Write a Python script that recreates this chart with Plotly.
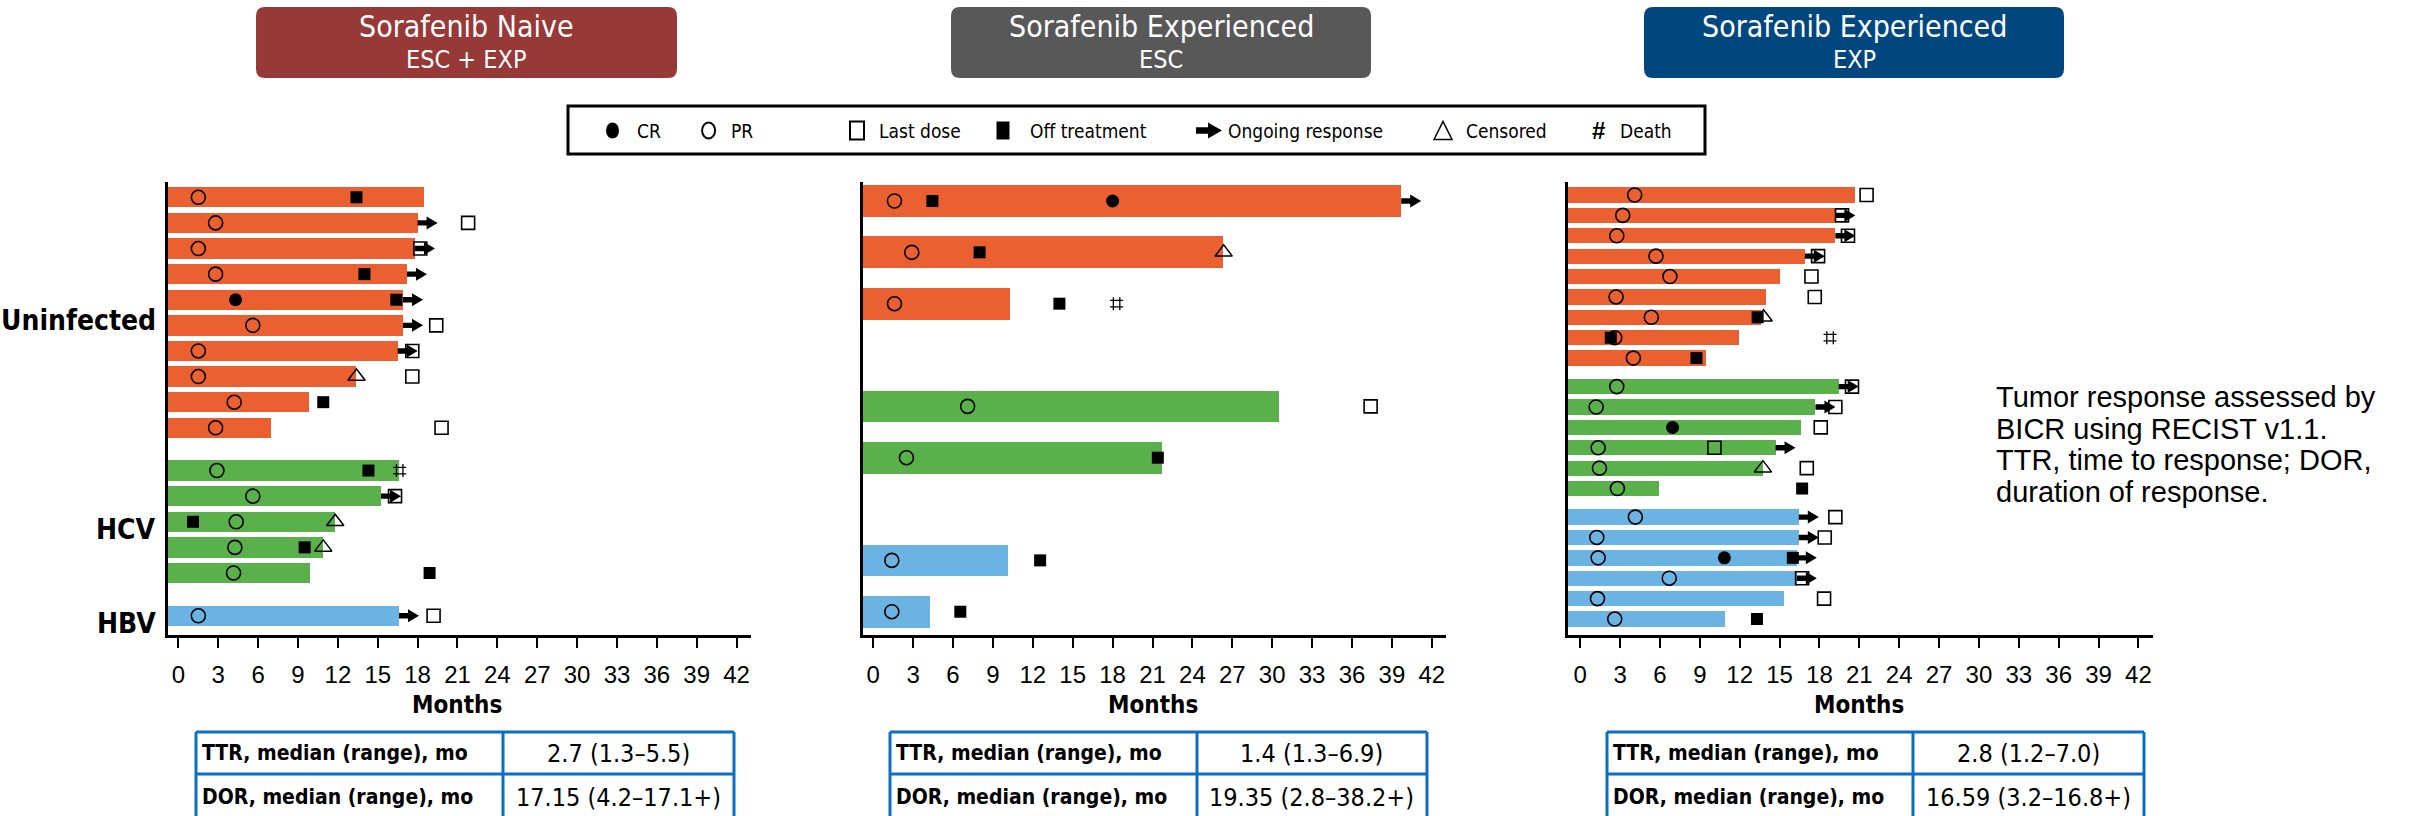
import plotly.graph_objects as go

# ---------------- data ----------------
# Sorafenib naive, ESC + EXP (one row per responder, top to bottom)
naive_group = ["Uninfected"] * 10 + ["HCV"] * 5 + ["HBV"]
naive_duration = [18.5, 18.0, 17.8, 17.2, 16.9, 16.9, 16.5, 13.4, 9.8, 7.0,
                  16.6, 15.25, 11.8, 10.9, 9.9, 16.6]
naive_pr = [1.5, 2.8, 1.5, 2.8, None, 5.6, 1.5, 1.5, 4.2, 2.8,
            2.9, 5.6, 4.35, 4.25, 4.15, 1.5]
naive_cr = [None, None, None, None, 4.3, None, None, None, None, None,
            None, None, None, None, None, None]
naive_off = [13.4, None, None, 14.0, 16.4, None, None, None, 10.9, None,
             14.3, None, 1.1, 9.5, 18.9, None]
naive_last = [None, 21.8, 18.2, None, None, 19.4, 17.6, 17.6, None, 19.8,
              None, 16.3, None, None, None, 19.2]
naive_censored = [None] * 7 + [13.4] + [None] * 4 + [11.8, 10.9, None, None]
naive_death = [None] * 10 + [16.65] + [None] * 5
naive_ongoing = [0, 1, 1, 1, 1, 1, 1, 0, 0, 0, 0, 1, 0, 0, 0, 1]

# Sorafenib experienced, ESC
esc_group = ["Uninfected"] * 3 + ["HCV"] * 2 + ["HBV"] * 2
esc_duration = [39.7, 26.3, 10.3, 30.5, 21.7, 10.1, 4.3]
esc_pr = [1.6, 2.9, 1.6, 7.1, 2.5, 1.4, 1.4]
esc_cr = [18.0, None, None, None, None, None, None]
esc_off = [4.45, 8.0, 14.0, None, 21.4, 12.55, 6.55]
esc_last = [None, None, None, 37.4, None, None, None]
esc_censored = [None, 26.35, None, None, None, None, None]
esc_death = [None, None, 18.3, None, None, None, None]
esc_ongoing = [1, 0, 0, 0, 0, 0, 0]

# Sorafenib experienced, EXP
exp_group = ["Uninfected"] * 9 + ["HCV"] * 6 + ["HBV"] * 6
exp_duration = [20.7, 19.2, 19.2, 16.9, 15.0, 14.0, 13.6, 11.95, 9.5,
                19.45, 17.7, 16.6, 14.7, 13.75, 5.9,
                16.45, 16.45, 16.3, 16.3, 15.3, 10.9]
exp_pr = [4.1, 3.2, 2.75, 5.7, 6.75, 2.7, 5.35, 2.6, 4.0,
          2.75, 1.2, None, 1.35, 1.45, 2.8,
          4.15, 1.25, 1.35, 6.7, 1.3, 2.6]
exp_cr = [None] * 11 + [6.95] + [None] * 5 + [10.85] + [None] * 3
exp_off = [None] * 6 + [13.35, 2.3, 8.75] + [None] * 5 + [16.7] + \
          [None, None, 16.0, None, None, 13.3]
exp_last = [21.55, 19.7, 20.15, 17.9, 17.4, 17.65, None, None, None,
            20.45, 19.2, 18.1, 10.1, 17.05, None,
            19.2, 18.4, None, 16.7, 18.35, None]
exp_censored = [None] * 6 + [13.8] + [None] * 6 + [13.75] + [None] * 7
exp_death = [None] * 7 + [18.8] + [None] * 13
exp_ongoing = [0, 1, 1, 1, 0, 0, 0, 0, 0,
               1, 1, 0, 1, 0, 0,
               1, 1, 1, 1, 0, 0]

panel_titles = ["Sorafenib Naive", "Sorafenib Experienced", "Sorafenib Experienced"]
panel_subtitles = ["ESC + EXP", "ESC", "EXP"]
ttr_values = ["2.7 (1.3\u20135.5)", "1.4 (1.3\u20136.9)", "2.8 (1.2\u20137.0)"]
dor_values = ["17.15 (4.2\u201317.1+)", "19.35 (2.8\u201338.2+)", "16.59 (3.2\u201316.8+)"]
table_labels = ["TTR, median (range), mo", "DOR, median (range), mo"]
x_ticks = list(range(0, 43, 3))
legend_labels = ["CR", "PR", "Last dose", "Off treatment", "Ongoing response",
                 "Censored", "Death"]
note_lines = ["Tumor response assessed by", "BICR using RECIST v1.1.",
              "TTR, time to response; DOR,", "duration of response."]

# ---------------- styling ----------------
W, H = 2420, 816
GROUP_COLORS = {"Uninfected": "#EA6030", "HCV": "#5AB04A", "HBV": "#6BB3E2"}
HEADER_COLORS = ["#963937", "#585858", "#00477F"]
TABLE_BLUE = "#0A6FC2"
COND = "Liberation Sans Narrow, Arial Narrow, DejaVu Sans Condensed, sans-serif"
ARIAL = "Liberation Sans, Arial, Helvetica, sans-serif"
PLOT_TOP, PLOT_BOTTOM = 182, 635.2


def px_x(p):
    return p / W


def px_y(p):
    return 1 - p / H


panels = [
    dict(data=(naive_group, naive_duration, naive_pr, naive_cr, naive_off,
               naive_last, naive_censored, naive_death, naive_ongoing),
         left=168, right=751, zero=178.4, ppm=13.29,
         first_row=197.3, spacing=25.61, gap=0.67, bar=20.3,
         header=(256, 677), table=(196, 503, 734)),
    dict(data=(esc_group, esc_duration, esc_pr, esc_cr, esc_off,
               esc_last, esc_censored, esc_death, esc_ongoing),
         left=863, right=1446, zero=873.2, ppm=13.30,
         first_row=201.0, spacing=51.34, gap=1.0, bar=31.7,
         header=(951, 1371), table=(890, 1197, 1427)),
    dict(data=(exp_group, exp_duration, exp_pr, exp_cr, exp_off,
               exp_last, exp_censored, exp_death, exp_ongoing),
         left=1568, right=2153, zero=1580.2, ppm=13.29,
         first_row=195.0, spacing=20.385, gap=0.40, bar=15.3,
         header=(1644, 2064), table=(1607, 1913, 2144)),
]

ARROW_PATH = "M0,-2.7 L9,-2.7 L9,-6.5 L20,0 L9,6.5 L9,2.7 L0,2.7 Z"

fig = go.Figure()
shapes = []
annotations = []
layout_axes = {}


def rounded_rect(x0, y0, x1, y1, r):
    pts = [
        ("M", [(x0 + r, y0)]), ("L", [(x1 - r, y0)]), ("Q", [(x1, y0), (x1, y0 + r)]),
        ("L", [(x1, y1 - r)]), ("Q", [(x1, y1), (x1 - r, y1)]),
        ("L", [(x0 + r, y1)]), ("Q", [(x0, y1), (x0, y1 - r)]),
        ("L", [(x0, y0 + r)]), ("Q", [(x0, y0), (x0 + r, y0)]),
    ]
    out = ""
    for cmd, coords in pts:
        out += cmd + " " + " ".join(f"{px_x(a):.5f},{px_y(b):.5f}" for a, b in coords) + " "
    return out + "Z"


for k, p in enumerate(panels):
    group, duration, pr, cr, off, last, cens, death, ongoing = p["data"]
    ax = "" if k == 0 else str(k + 1)
    xa, ya = "x" + ax, "y" + ax

    # row positions: one slot per patient, extra gap between infection groups
    pos, gi = [], 0
    for i, g in enumerate(group):
        if i > 0 and g != group[i - 1]:
            gi += 1
        pos.append(i + p["gap"] * gi)

    xmin = (p["left"] - p["zero"]) / p["ppm"]
    xmax = (p["right"] - p["zero"]) / p["ppm"]
    ytop = (PLOT_TOP - p["first_row"]) / p["spacing"]
    ybot = (PLOT_BOTTOM - p["first_row"]) / p["spacing"]

    fig.add_trace(go.Bar(
        orientation="h", y=pos, x=[d - xmin for d in duration], base=xmin,
        width=p["bar"] / p["spacing"],
        marker=dict(color=[GROUP_COLORS[g] for g in group], line=dict(width=0)),
        xaxis=xa, yaxis=ya, showlegend=False, hoverinfo="skip"))

    def add_markers(vals, symbol, size, lw=1.6):
        fig.add_trace(go.Scatter(
            x=vals, y=pos, mode="markers", xaxis=xa, yaxis=ya, cliponaxis=False,
            marker=dict(symbol=symbol, size=size, color="black",
                        line=dict(color="black", width=lw)),
            showlegend=False, hoverinfo="skip"))

    add_markers(off, "square", 12, 0)
    add_markers(pr, "circle-open", 14, 1.6)
    add_markers(cr, "circle", 13, 0)
    add_markers(cens, "triangle-up-open", 15, 1.5)
    add_markers(death, "hash-open", 13, 1.3)
    add_markers(last, "square-open", 13, 1.6)

    # ongoing-response arrows start at the end of the bar
    for d, y, on in zip(duration, pos, ongoing):
        if on:
            shapes.append(dict(type="path", xref=xa, yref=ya, xsizemode="pixel",
                               ysizemode="pixel", xanchor=d, yanchor=y,
                               path=ARROW_PATH, fillcolor="black",
                               line=dict(width=0), layer="above"))

    layout_axes["xaxis" + ax] = dict(
        domain=[px_x(p["left"]), px_x(p["right"])], range=[xmin, xmax],
        tickvals=x_ticks, ticks="outside", ticklen=10, tickwidth=2,
        tickcolor="black", showline=True, linewidth=3, linecolor="black",
        showgrid=False, zeroline=False, anchor=ya, fixedrange=True,
        tickfont=dict(family=ARIAL, size=24, color="black"), ticklabelstandoff=6)
    layout_axes["yaxis" + ax] = dict(
        domain=[px_y(PLOT_BOTTOM), px_y(PLOT_TOP)], range=[ybot, ytop],
        showline=True, linewidth=3, linecolor="black", showgrid=False,
        zeroline=False, showticklabels=False, ticks="", anchor=xa, fixedrange=True)

    # group labels on the first panel
    if k == 0:
        names = []
        for g in group:
            if g not in names:
                names.append(g)
        for g in names:
            ys = [y for y, gg in zip(pos, group) if gg == g]
            annotations.append(dict(
                x=px_x(158), xref="paper", xanchor="right",
                y=(min(ys) + max(ys)) / 2, yref=ya, yanchor="middle", yshift=-8,
                text=g, showarrow=False,
                font=dict(family=COND, size=28, color="black", weight="bold")))

    # axis title
    annotations.append(dict(
        x=px_x(p["zero"] + 21 * p["ppm"]), y=px_y(705), xref="paper", yref="paper",
        text="Months", showarrow=False, xanchor="center", yanchor="middle",
        font=dict(family=COND, size=24, color="black", weight="bold")))

    # header box
    hx0, hx1 = p["header"]
    shapes.append(dict(type="path", xref="paper", yref="paper",
                       path=rounded_rect(hx0, 7, hx1, 78, 9),
                       fillcolor=HEADER_COLORS[k], line=dict(width=0), layer="below"))
    annotations.append(dict(
        x=px_x((hx0 + hx1) / 2), y=px_y(26), xref="paper", yref="paper",
        text=panel_titles[k], showarrow=False, xanchor="center", yanchor="middle",
        font=dict(family=COND, size=30, color="white")))
    annotations.append(dict(
        x=px_x((hx0 + hx1) / 2), y=px_y(60), xref="paper", yref="paper",
        text=panel_subtitles[k], showarrow=False, xanchor="center", yanchor="middle",
        font=dict(family=COND, size=25, color="white")))

    # summary table
    tl, tm, tr = p["table"]
    ttop, tmid, tbot = 732, 774, 818
    for x0, y0, x1, y1 in [(tl, ttop, tr, ttop), (tl, tmid, tr, tmid), (tl, tbot, tr, tbot),
                           (tl, ttop, tl, tbot), (tm, ttop, tm, tbot), (tr, ttop, tr, tbot)]:
        shapes.append(dict(type="line", xref="paper", yref="paper",
                           x0=px_x(x0), x1=px_x(x1), y0=px_y(y0), y1=px_y(y1),
                           line=dict(color=TABLE_BLUE, width=3)))
    for label, value, yc in [(table_labels[0], ttr_values[k], 753),
                             (table_labels[1], dor_values[k], 797)]:
        annotations.append(dict(
            x=px_x(tl + 4), y=px_y(yc), xref="paper", yref="paper", text=label,
            showarrow=False, xanchor="left", yanchor="middle",
            font=dict(family=COND, size=21, color="black", weight="bold")))
        annotations.append(dict(
            x=px_x((tm + tr) / 2), y=px_y(yc), xref="paper", yref="paper", text=value,
            showarrow=False, xanchor="center", yanchor="middle",
            font=dict(family=COND, size=25, color="black")))

# ---------------- symbol key ----------------
LEG_Y = 130.5
shapes.append(dict(type="rect", xref="paper", yref="paper",
                   x0=px_x(568), x1=px_x(1705), y0=px_y(106), y1=px_y(154),
                   line=dict(color="black", width=3), fillcolor="white", layer="below"))
key_glyph_x = [612.5, 708.6, 857, 1003, 1196, 1443, 1598.6]
key_text_x = [635, 729, 877, 1028, 1226, 1464, 1618]


def ell(cx, cy, rx, ry, fill, lw):
    return dict(type="circle", xref="paper", yref="paper",
                x0=px_x(cx - rx), x1=px_x(cx + rx), y0=px_y(cy - ry), y1=px_y(cy + ry),
                fillcolor=fill, line=dict(color="black", width=lw))


def box(cx, cy, w, h, fill, lw):
    return dict(type="rect", xref="paper", yref="paper",
                x0=px_x(cx - w / 2), x1=px_x(cx + w / 2),
                y0=px_y(cy - h / 2), y1=px_y(cy + h / 2),
                fillcolor=fill, line=dict(color="black", width=lw))


shapes.append(ell(key_glyph_x[0], LEG_Y, 6.5, 8, "black", 0))
shapes.append(ell(key_glyph_x[1], LEG_Y, 6.5, 8, "rgba(0,0,0,0)", 2))
shapes.append(box(key_glyph_x[2], LEG_Y, 14, 18, "rgba(0,0,0,0)", 2))
shapes.append(box(key_glyph_x[3], LEG_Y, 13, 18, "black", 0))
ax0 = key_glyph_x[4]
arrow_pts = [(0, -3.3), (12, -3.3), (12, -8), (26, 0), (12, 8), (12, 3.3), (0, 3.3)]
shapes.append(dict(type="path", xref="paper", yref="paper", fillcolor="black",
                   line=dict(width=0),
                   path="M " + " L ".join(f"{px_x(ax0 + a):.5f},{px_y(LEG_Y + b):.5f}"
                                          for a, b in arrow_pts) + " Z"))
tx = key_glyph_x[5]
tri = [(tx - 9, LEG_Y + 9), (tx, LEG_Y - 9), (tx + 9, LEG_Y + 9)]
shapes.append(dict(type="path", xref="paper", yref="paper", line=dict(color="black", width=1.5),
                   path="M " + " L ".join(f"{px_x(a):.5f},{px_y(b):.5f}" for a, b in tri) + " Z"))
annotations.append(dict(x=px_x(key_glyph_x[6]), y=px_y(LEG_Y), xref="paper", yref="paper",
                        text="#", showarrow=False, xanchor="center", yanchor="middle",
                        font=dict(family=ARIAL, size=24, color="black", weight="bold")))
for lab, x in zip(legend_labels, key_text_x):
    annotations.append(dict(x=px_x(x), y=px_y(LEG_Y), xref="paper", yref="paper",
                            text=lab, showarrow=False, xanchor="left", yanchor="middle",
                            font=dict(family=COND, size=19, color="black")))

# ---------------- footnote ----------------
for i, line in enumerate(note_lines):
    annotations.append(dict(x=px_x(1994), y=px_y(397 + 31.7 * i), xref="paper", yref="paper",
                            text=line, showarrow=False, xanchor="left", yanchor="middle",
                            font=dict(family=ARIAL, size=29, color="black")))

fig.update_layout(
    width=W, height=H, margin=dict(l=0, r=0, t=0, b=0),
    paper_bgcolor="white", plot_bgcolor="rgba(0,0,0,0)",
    showlegend=False, barmode="overlay", bargap=0,
    shapes=shapes, annotations=annotations, **layout_axes)

fig.write_html("out.html", config={"displayModeBar": False})
